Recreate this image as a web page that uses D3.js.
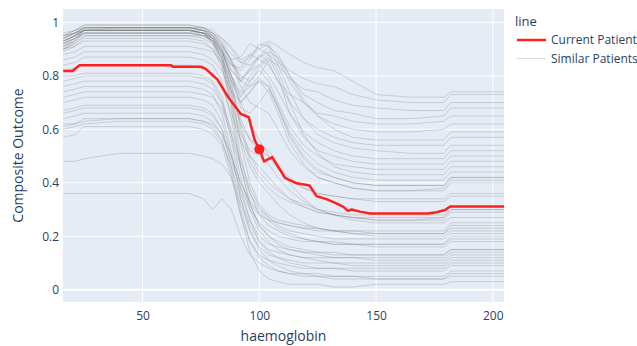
<!DOCTYPE html>
<html>
<head>
<meta charset="utf-8">
<script src="https://cdn.jsdelivr.net/npm/d3@7"></script>
<style>
  html, body { margin: 0; padding: 0; background: #fff; }
  svg { display: block; font-family: "Open Sans", "Noto Sans", sans-serif; }
</style>
</head>
<body>
<svg id="chart" width="637" height="346"></svg>
<script>
// ---------- data ----------
const xTicks = [50, 100, 150, 200];
const yTicks = [0, 0.2, 0.4, 0.6, 0.8, 1];

// haemoglobin grid shared by the similar-patient curves
const haemoglobinGrid = [16, 21, 25, 40, 70, 76, 80, 84, 88, 92, 96, 100, 104, 108, 113, 119, 125, 132, 140, 150, 165, 179, 182, 205];

// composite outcome of the similar patients (one row per patient)
const similarPatients = [
  [0.95,0.97,0.99,0.99,0.99,0.98,0.97,0.94,0.91,0.86,0.88,0.91,0.93,0.91,0.88,0.85,0.83,0.82,0.78,0.73,0.72,0.72,0.74,0.74],
  [0.94,0.96,0.98,0.98,0.98,0.98,0.96,0.92,0.86,0.87,0.92,0.90,0.88,0.85,0.82,0.79,0.77,0.76,0.73,0.71,0.70,0.70,0.73,0.73],
  [0.93,0.95,0.98,0.98,0.98,0.97,0.95,0.90,0.84,0.82,0.86,0.92,0.91,0.84,0.79,0.75,0.74,0.71,0.69,0.68,0.67,0.67,0.70,0.70],
  [0.92,0.94,0.97,0.98,0.98,0.97,0.96,0.93,0.88,0.85,0.84,0.87,0.91,0.88,0.80,0.73,0.70,0.67,0.66,0.64,0.64,0.65,0.68,0.68],
  [0.91,0.93,0.97,0.97,0.97,0.97,0.94,0.89,0.84,0.83,0.88,0.86,0.84,0.78,0.73,0.70,0.66,0.65,0.63,0.62,0.62,0.63,0.65,0.65],
  [0.95,0.97,0.98,0.98,0.98,0.97,0.96,0.94,0.90,0.85,0.87,0.90,0.92,0.86,0.78,0.70,0.65,0.62,0.60,0.59,0.59,0.60,0.62,0.62],
  [0.90,0.93,0.96,0.96,0.96,0.96,0.95,0.91,0.85,0.79,0.82,0.87,0.89,0.87,0.80,0.71,0.65,0.60,0.57,0.56,0.56,0.56,0.59,0.59],
  [0.94,0.96,0.98,0.98,0.98,0.98,0.95,0.90,0.82,0.78,0.83,0.88,0.85,0.78,0.70,0.64,0.60,0.57,0.55,0.54,0.54,0.54,0.57,0.57],
  [0.93,0.95,0.97,0.97,0.97,0.96,0.95,0.92,0.86,0.78,0.76,0.80,0.86,0.84,0.74,0.64,0.58,0.55,0.53,0.52,0.51,0.51,0.54,0.54],
  [0.92,0.94,0.97,0.97,0.97,0.96,0.93,0.88,0.80,0.74,0.80,0.84,0.80,0.74,0.66,0.59,0.55,0.52,0.50,0.49,0.49,0.49,0.52,0.52],
  [0.91,0.94,0.96,0.96,0.96,0.95,0.94,0.91,0.86,0.80,0.78,0.83,0.87,0.80,0.66,0.57,0.52,0.50,0.48,0.47,0.47,0.47,0.50,0.50],
  [0.95,0.96,0.98,0.98,0.98,0.97,0.94,0.89,0.80,0.72,0.78,0.82,0.78,0.70,0.61,0.54,0.50,0.47,0.46,0.45,0.45,0.45,0.48,0.48],
  [0.90,0.92,0.95,0.95,0.95,0.95,0.93,0.89,0.82,0.78,0.82,0.84,0.88,0.82,0.70,0.58,0.51,0.46,0.44,0.43,0.43,0.43,0.46,0.46],
  [0.93,0.95,0.97,0.97,0.97,0.96,0.93,0.87,0.78,0.70,0.74,0.79,0.76,0.69,0.59,0.52,0.47,0.44,0.42,0.41,0.41,0.41,0.44,0.44],
  [0.94,0.96,0.97,0.97,0.97,0.96,0.94,0.89,0.80,0.68,0.66,0.70,0.75,0.68,0.57,0.49,0.44,0.42,0.40,0.39,0.39,0.39,0.42,0.42],
  [0.92,0.95,0.97,0.97,0.97,0.96,0.92,0.86,0.78,0.73,0.76,0.78,0.74,0.66,0.55,0.47,0.42,0.40,0.38,0.37,0.37,0.37,0.40,0.40],
  [0.93,0.95,0.97,0.97,0.97,0.96,0.94,0.88,0.74,0.55,0.40,0.32,0.28,0.26,0.25,0.24,0.23,0.22,0.22,0.21,0.21,0.21,0.24,0.24],
  [0.92,0.94,0.96,0.96,0.96,0.95,0.93,0.86,0.70,0.50,0.36,0.28,0.24,0.22,0.20,0.19,0.18,0.18,0.17,0.17,0.17,0.17,0.19,0.19],
  [0.95,0.96,0.98,0.98,0.98,0.97,0.95,0.90,0.78,0.62,0.50,0.44,0.40,0.37,0.34,0.32,0.30,0.29,0.28,0.28,0.28,0.28,0.31,0.31],
  [0.91,0.93,0.96,0.96,0.96,0.95,0.93,0.87,0.76,0.60,0.48,0.42,0.38,0.35,0.33,0.31,0.29,0.28,0.27,0.26,0.26,0.26,0.29,0.29],
  [0.90,0.92,0.95,0.95,0.95,0.94,0.92,0.84,0.68,0.46,0.32,0.24,0.20,0.18,0.16,0.15,0.14,0.14,0.13,0.13,0.13,0.13,0.15,0.15],
  [0.94,0.96,0.97,0.97,0.97,0.96,0.94,0.89,0.80,0.70,0.62,0.56,0.50,0.45,0.41,0.38,0.36,0.35,0.34,0.34,0.34,0.34,0.36,0.36],
  [0.93,0.95,0.97,0.97,0.97,0.96,0.93,0.86,0.72,0.58,0.52,0.50,0.47,0.42,0.37,0.33,0.30,0.28,0.27,0.26,0.26,0.27,0.30,0.30],
  [0.89,0.91,0.94,0.94,0.94,0.93,0.90,0.83,0.70,0.56,0.46,0.40,0.36,0.32,0.28,0.25,0.23,0.22,0.21,0.20,0.20,0.20,0.22,0.22],
  [0.96,0.97,0.99,0.99,0.99,0.98,0.96,0.92,0.85,0.76,0.70,0.68,0.66,0.60,0.52,0.46,0.42,0.40,0.38,0.37,0.37,0.38,0.41,0.41],
  [0.88,0.89,0.91,0.91,0.91,0.90,0.89,0.85,0.76,0.64,0.56,0.52,0.50,0.46,0.42,0.38,0.36,0.35,0.34,0.33,0.33,0.33,0.35,0.35],
  [0.86,0.87,0.89,0.89,0.89,0.88,0.86,0.82,0.74,0.70,0.74,0.78,0.76,0.68,0.58,0.50,0.45,0.42,0.40,0.39,0.39,0.39,0.42,0.42],
  [0.84,0.85,0.87,0.87,0.87,0.86,0.84,0.78,0.64,0.46,0.32,0.24,0.20,0.17,0.15,0.14,0.13,0.12,0.12,0.11,0.11,0.11,0.13,0.13],
  [0.90,0.91,0.93,0.93,0.93,0.92,0.90,0.85,0.74,0.62,0.56,0.54,0.52,0.47,0.40,0.34,0.30,0.28,0.26,0.25,0.25,0.25,0.27,0.27],
  [0.82,0.83,0.84,0.84,0.84,0.83,0.81,0.76,0.66,0.56,0.50,0.46,0.42,0.38,0.34,0.31,0.29,0.28,0.27,0.27,0.27,0.27,0.30,0.30],
  [0.80,0.80,0.81,0.81,0.81,0.80,0.78,0.72,0.58,0.42,0.30,0.22,0.18,0.15,0.13,0.12,0.11,0.10,0.10,0.10,0.10,0.10,0.12,0.12],
  [0.78,0.79,0.80,0.80,0.80,0.79,0.77,0.70,0.56,0.38,0.26,0.18,0.14,0.12,0.10,0.09,0.08,0.08,0.07,0.07,0.07,0.07,0.09,0.09],
  [0.76,0.77,0.78,0.78,0.78,0.77,0.75,0.70,0.60,0.48,0.38,0.31,0.27,0.24,0.22,0.21,0.20,0.19,0.19,0.19,0.19,0.19,0.21,0.21],
  [0.74,0.75,0.76,0.76,0.76,0.75,0.73,0.66,0.52,0.34,0.22,0.15,0.11,0.09,0.07,0.06,0.05,0.05,0.05,0.04,0.04,0.04,0.06,0.06],
  [0.72,0.73,0.74,0.74,0.74,0.73,0.72,0.68,0.58,0.46,0.36,0.30,0.27,0.25,0.24,0.23,0.23,0.22,0.22,0.22,0.22,0.22,0.25,0.25],
  [0.70,0.71,0.72,0.72,0.72,0.71,0.69,0.63,0.50,0.36,0.26,0.20,0.17,0.16,0.15,0.14,0.14,0.13,0.13,0.13,0.13,0.13,0.15,0.15],
  [0.67,0.68,0.69,0.69,0.69,0.68,0.66,0.60,0.46,0.30,0.18,0.12,0.09,0.07,0.06,0.05,0.05,0.04,0.04,0.04,0.04,0.04,0.05,0.05],
  [0.66,0.67,0.68,0.68,0.68,0.67,0.65,0.60,0.50,0.40,0.33,0.29,0.26,0.23,0.21,0.19,0.18,0.17,0.17,0.16,0.16,0.16,0.18,0.18],
  [0.64,0.65,0.66,0.66,0.66,0.65,0.63,0.58,0.48,0.38,0.30,0.25,0.22,0.20,0.19,0.18,0.18,0.17,0.17,0.17,0.17,0.17,0.20,0.20],
  [0.61,0.62,0.63,0.64,0.64,0.63,0.61,0.56,0.44,0.28,0.14,0.07,0.04,0.03,0.02,0.02,0.02,0.01,0.01,0.02,0.02,0.02,0.03,0.03],
  [0.60,0.61,0.62,0.63,0.63,0.62,0.60,0.55,0.46,0.34,0.24,0.18,0.15,0.14,0.13,0.12,0.12,0.12,0.12,0.12,0.12,0.12,0.14,0.14],
  [0.57,0.58,0.61,0.61,0.61,0.60,0.58,0.54,0.42,0.28,0.18,0.13,0.11,0.10,0.09,0.08,0.08,0.08,0.08,0.08,0.08,0.08,0.10,0.10],
  [0.62,0.62,0.64,0.64,0.64,0.63,0.62,0.58,0.50,0.40,0.32,0.28,0.26,0.25,0.24,0.23,0.22,0.22,0.21,0.21,0.21,0.21,0.23,0.23],
  [0.48,0.48,0.49,0.51,0.51,0.50,0.49,0.47,0.42,0.32,0.22,0.16,0.13,0.12,0.11,0.10,0.10,0.10,0.09,0.09,0.09,0.09,0.11,0.11],
  [0.36,0.36,0.36,0.36,0.36,0.34,0.30,0.34,0.30,0.20,0.13,0.10,0.08,0.07,0.06,0.06,0.06,0.05,0.05,0.05,0.05,0.05,0.07,0.07]
];

// current patient curve
const currentX = [16, 20, 23, 62, 63, 75, 77, 82, 87, 92, 95.5, 98, 100, 102, 105.5, 111, 116, 121.5, 124.5, 129, 133, 136, 138, 139.6, 143, 147.5, 172, 176, 179.5, 181.7, 205];
const currentY = [0.818, 0.818, 0.84, 0.84, 0.834, 0.834, 0.826, 0.787, 0.716, 0.658, 0.645, 0.56, 0.525, 0.48, 0.496, 0.418, 0.398, 0.39, 0.35, 0.338, 0.323, 0.31, 0.295, 0.30, 0.292, 0.285, 0.285, 0.29, 0.298, 0.311, 0.311];

// current patient's actual value
const currentPoint = [100, 0.525];

const legendLabels = ["Current Patient", "Similar Patients"];

// ---------- chart ----------
const plot = { left: 63, right: 504, top: 9, bottom: 302 };
const textColor = "#2a3f5f";

const svg = d3.select("#chart");

const x = d3.scaleLinear().domain([15.9, 204.8]).range([plot.left, plot.right]);
const y = d3.scaleLinear().domain([-0.046, 1.05]).range([plot.bottom, plot.top]);

svg.append("rect")
  .attr("x", plot.left).attr("y", plot.top)
  .attr("width", plot.right - plot.left).attr("height", plot.bottom - plot.top)
  .attr("fill", "#E5ECF6");

svg.append("defs").append("clipPath").attr("id", "clip")
  .append("rect")
  .attr("x", plot.left).attr("y", plot.top)
  .attr("width", plot.right - plot.left).attr("height", plot.bottom - plot.top);

// grid lines
svg.append("g").selectAll("line").data(xTicks).join("line")
  .attr("x1", d => x(d)).attr("x2", d => x(d))
  .attr("y1", plot.top).attr("y2", plot.bottom)
  .attr("stroke", "#fff").attr("stroke-width", 1);
svg.append("g").selectAll("line").data(yTicks).join("line")
  .attr("x1", plot.left).attr("x2", plot.right)
  .attr("y1", d => y(d)).attr("y2", d => y(d))
  .attr("stroke", "#fff").attr("stroke-width", d => d === 0 ? 2 : 1);

const lines = svg.append("g").attr("clip-path", "url(#clip)");

const grayLine = d3.line()
  .x((d, i) => x(haemoglobinGrid[i]))
  .y(d => y(d));

lines.selectAll("path.sim").data(similarPatients).join("path")
  .attr("class", "sim")
  .attr("d", grayLine)
  .attr("fill", "none")
  .attr("stroke", "rgb(128,128,128)")
  .attr("stroke-opacity", 0.3)
  .attr("stroke-width", 1);

const redLine = d3.line()
  .x((d, i) => x(currentX[i]))
  .y(d => y(d));

lines.append("path")
  .datum(currentY)
  .attr("d", redLine)
  .attr("fill", "none")
  .attr("stroke", "#ff1f1f")
  .attr("stroke-width", 2.5)
  .attr("stroke-linejoin", "round");

lines.append("circle")
  .attr("cx", x(currentPoint[0]))
  .attr("cy", y(currentPoint[1]))
  .attr("r", 5)
  .attr("fill", "#ff1f1f");

// axes
const xAxis = d3.axisBottom(x).tickValues(xTicks).tickSize(0).tickPadding(0);
const gx = svg.append("g").attr("transform", `translate(0,${plot.bottom})`).call(xAxis);
gx.select(".domain").remove();
gx.selectAll("text")
  .attr("y", 9).attr("dy", "0.71em")
  .attr("fill", textColor).attr("font-size", 12)
  .attr("font-family", "'Open Sans', sans-serif");

const yAxis = d3.axisLeft(y).tickValues(yTicks).tickSize(0).tickFormat(d => String(d));
const gy = svg.append("g").attr("transform", `translate(${plot.left},0)`).call(yAxis);
gy.select(".domain").remove();
gy.selectAll("text")
  .attr("x", -4)
  .attr("fill", textColor).attr("font-size", 12)
  .attr("font-family", "'Open Sans', sans-serif");

// axis titles
svg.append("text")
  .attr("x", (plot.left + plot.right) / 2)
  .attr("y", 341)
  .attr("text-anchor", "middle")
  .attr("font-size", 14)
  .attr("fill", textColor)
  .text("haemoglobin");

svg.append("text")
  .attr("transform", `translate(23,${(plot.top + plot.bottom) / 2}) rotate(-90)`)
  .attr("text-anchor", "middle")
  .attr("font-size", 14)
  .attr("fill", textColor)
  .text("Composite Outcome");

// legend
const legend = svg.append("g");
legend.append("text")
  .attr("x", 515).attr("y", 26)
  .attr("font-size", 13)
  .attr("fill", textColor)
  .text("line");

const legendStyles = [
  { stroke: "#ff1f1f", width: 2.5, opacity: 1 },
  { stroke: "rgb(128,128,128)", width: 1, opacity: 0.3 }
];
legendLabels.forEach((label, i) => {
  const cy = 40 + i * 18.5;
  legend.append("line")
    .attr("x1", 517).attr("x2", 546)
    .attr("y1", cy).attr("y2", cy)
    .attr("stroke", legendStyles[i].stroke)
    .attr("stroke-width", legendStyles[i].width)
    .attr("stroke-opacity", legendStyles[i].opacity);
  legend.append("text")
    .attr("x", 551).attr("y", cy)
    .attr("dy", "0.35em")
    .attr("font-size", 12)
    .attr("fill", textColor)
    .text(label);
});
</script>
</body>
</html>
